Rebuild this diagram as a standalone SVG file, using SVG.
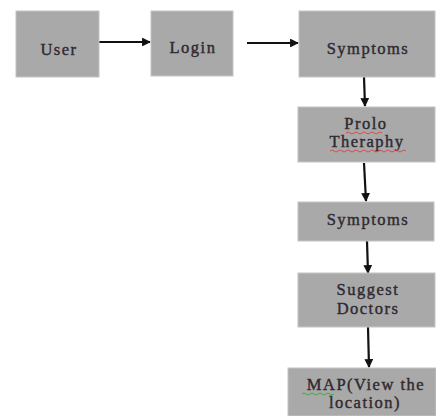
<svg xmlns="http://www.w3.org/2000/svg" width="436" height="416" viewBox="0 0 436 416">
<defs>
<marker id="ah" viewBox="0 0 10 10" refX="9" refY="5" markerWidth="4" markerHeight="4" orient="auto"><path d="M0,0 L10,5 L0,10 z" fill="#111"/></marker>
<style>
.box{fill:#a9a9a9;stroke:#c4c4c4;stroke-width:1}
.t{font-family:"Liberation Serif","Times New Roman",serif;font-size:16.5px;letter-spacing:1.5px;fill:#2f2a31;stroke:#2f2a31;stroke-width:0.4;text-anchor:middle}
.c{stroke:#111;stroke-width:2.2;fill:none;marker-end:url(#ah)}
.sq{fill:none;stroke-width:0.9}
</style>
</defs>
<rect width="436" height="416" fill="#fff"/>
<g id="connectors">
<line class="c" x1="99" y1="42" x2="150" y2="42"/>
<line class="c" x1="247" y1="43" x2="298" y2="43"/>
<line class="c" x1="364" y1="77" x2="365" y2="106"/>
<line class="c" x1="364" y1="163" x2="366" y2="201"/>
<line class="c" x1="367" y1="241" x2="368" y2="273"/>
<line class="c" x1="368" y1="327" x2="369" y2="367"/>
</g>
<g id="n1"><rect class="box" x="16" y="11" width="83" height="66"/><text class="t" x="59" y="55">User</text></g>
<g id="n2"><rect class="box" x="151" y="11" width="82" height="65"/><text class="t" x="193" y="53">Login</text></g>
<g id="n3"><rect class="box" x="299" y="11" width="136" height="66"/><text class="t" x="368" y="54">Symptoms</text></g>
<g id="n4"><rect class="box" x="298" y="107" width="137" height="55"/><text class="t" x="366" y="129">Prolo</text><text class="t" x="367" y="147">Theraphy</text>
<path class="sq" stroke="#d44" d="M346,133 q2,-2 4,0 t4,0 t4,0 t4,0 t4,0 t4,0 t4,0 t4,0 t4,0 M330,151 q2,-2 4,0 t4,0 t4,0 t4,0 t4,0 t4,0 t4,0 t4,0 t4,0 t4,0 t4,0 t4,0 t4,0 t4,0 t4,0 t4,0 t4,0 t4,0 t4,0"/></g>
<g id="n5"><rect class="box" x="298" y="202" width="136" height="39"/><text class="t" x="368" y="225">Symptoms</text></g>
<g id="n6"><rect class="box" x="298" y="273" width="137" height="54"/><text class="t" x="368" y="295">Suggest</text><text class="t" x="368" y="314">Doctors</text></g>
<g id="n7"><rect class="box" x="288" y="368" width="148" height="48"/><text class="t" x="366" y="390">MAP(View the</text><text class="t" x="365" y="408">location)</text>
<path class="sq" stroke="#3a3" d="M302,394 q2,-2 4,0 t4,0 t4,0 t4,0 t4,0 t4,0 t4,0 t4,0"/></g>
</svg>
